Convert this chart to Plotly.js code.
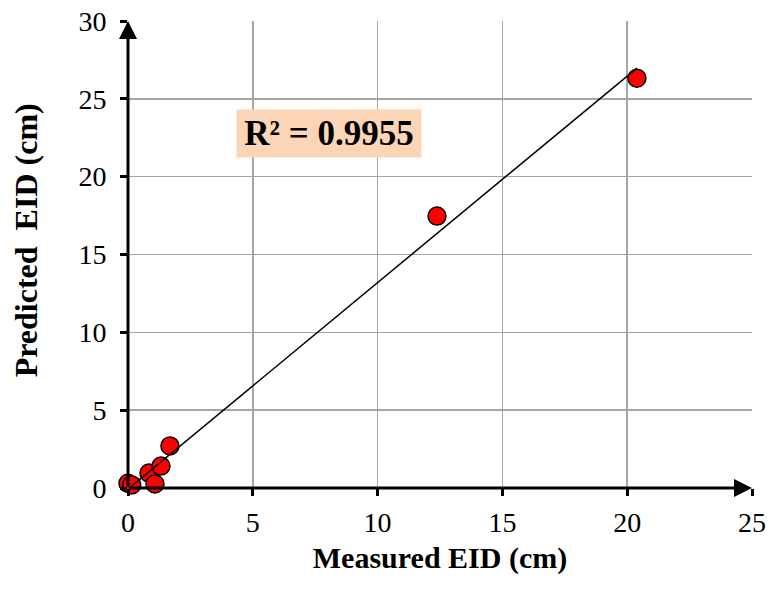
<!DOCTYPE html>
<html><head><meta charset="utf-8">
<script src="https://cdn.plot.ly/plotly-3.0.1.min.js"></script>
<style>html,body{margin:0;padding:0;background:#fff}#chart{width:771px;height:591px}</style>
</head><body><div id="chart"></div>
<script>
const measured = [0.0, 0.15, 0.84, 1.08, 1.32, 1.68, 12.38, 20.39];
const predicted = [0.3, 0.2, 0.96, 0.26, 1.41, 2.70, 17.47, 26.33];
const xTicks = [0, 5, 10, 15, 20, 25];
const yTicks = [0, 5, 10, 15, 20, 25, 30];
const r2Label = 'R² = 0.9955';
const xTitle = 'Measured EID (cm)';
const yTitle = 'Predicted&nbsp;&nbsp;EID (cm)';

// least-squares trendline
const n = measured.length;
const mx = measured.reduce((a,b)=>a+b,0)/n;
const my = predicted.reduce((a,b)=>a+b,0)/n;
let sxy=0, sxx=0;
for (let i=0;i<n;i++){ sxy+=(measured[i]-mx)*(predicted[i]-my); sxx+=(measured[i]-mx)**2; }
const slope = sxy/sxx, icpt = my - slope*mx;
const xmin = Math.min(...measured), xmax = Math.max(...measured);

const font = 'Liberation Serif, Times New Roman, serif';
const traces = [
  {x: measured, y: predicted, mode:'markers', type:'scatter', cliponaxis:false,
   marker:{color:'#ff0000', size:18, line:{color:'#000', width:1.5}}, showlegend:false},
  {x:[xmin, xmax], y:[icpt+slope*xmin, icpt+slope*xmax], mode:'lines', type:'scatter', cliponaxis:false,
   line:{color:'#000', width:1.5}, showlegend:false}
];
const axCommon = {showgrid:true, gridcolor:'#a6a6a6', gridwidth:1.5, zeroline:false, showline:false,
  ticks:'outside', ticklen:7, tickwidth:3, tickcolor:'#000', tickfont:{family:font, size:28, color:'#000'}};
const layout = {
  width:771, height:591,
  margin:{l:128, r:19, t:21, b:103},
  paper_bgcolor:'#fff', plot_bgcolor:'#fff',
  font:{family:font, color:'#000', size:28},
  xaxis:Object.assign({}, axCommon, {range:[0,25], tickvals:xTicks, ticktext:xTicks.map(String), ticklabelstandoff:2,
    title:{text:'<b>'+xTitle+'</b>', font:{family:font, size:30, color:'#000'}, standoff:10}}),
  yaxis:Object.assign({}, axCommon, {range:[0,30], tickvals:yTicks, ticktext:yTicks.map(String), ticklabelstandoff:8}),
  annotations:[
    {x:-0.163, y:0.531, xref:'paper', yref:'paper', text:'<b>'+yTitle+'</b>', showarrow:false, textangle:-90,
     xanchor:'center', yanchor:'middle', font:{family:font, size:32, color:'#000'}},
    {x:8.05, y:22.77, xref:'x', yref:'y', text:'<b>'+r2Label+'</b>', showarrow:false, width:184, height:47,
     font:{family:font, size:35, color:'#000'}, bgcolor:'#fbd5b5', borderpad:0},
    {x:0, y:30, ax:0, ay:0, xref:'x', yref:'y', axref:'x', ayref:'y', showarrow:true, arrowhead:2, arrowsize:1.2, arrowwidth:3, arrowcolor:'#000', text:''},
    {x:25, y:0, ax:0, ay:0, xref:'x', yref:'y', axref:'x', ayref:'y', showarrow:true, arrowhead:2, arrowsize:1.2, arrowwidth:3, arrowcolor:'#000', text:''}
  ]
};
Plotly.newPlot('chart', traces, layout, {displayModeBar:false, staticPlot:true});
</script></body></html>
